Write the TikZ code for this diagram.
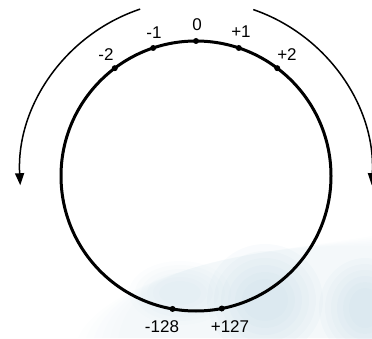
\documentclass[tikz,border=0pt]{standalone}
\usepackage{fontspec}
\setmainfont{Liberation Sans}
\usetikzlibrary{arrows.meta,calc}
\definecolor{wm}{RGB}{175,205,220}
\begin{document}
\begin{tikzpicture}[x=1pt,y=1pt,
  ring/.style={line width=3pt},
  dot/.style={circle,fill=black,inner sep=0pt,minimum size=6pt},
  lbl/.style={font=\fontsize{17}{19}\selectfont,inner sep=0pt},
  turn/.style={line width=1.5pt,-{Triangle[length=12pt,width=9pt]}}]
\useasboundingbox (0,0) rectangle (372,338);
\clip (0,0) rectangle (372,338);
% faint watermark background
\foreach \k in {1,...,6}{
  \fill[wm,opacity=0.025] (70+8*\k,0) .. controls (95+6*\k,50+5*\k) and (250,100-3*\k) .. (372,90+2*\k) -- (372,0) -- cycle;
  \fill[wm,opacity=0.07] (265,38) ellipse[x radius=16+7*\k,y radius=14+7*\k];
  \fill[wm,opacity=0.07] (365,30) ellipse[x radius=10+6*\k,y radius=14+6*\k];
  \fill[wm,opacity=0.04] (180,45) ellipse[x radius=15+6*\k,y radius=8+4*\k];
}
\coordinate (c) at (196,162);
\draw[ring] (c) circle[radius=135];
\node[dot] (p0) at ($(c)+(90:135)$) {};
\node[dot] (p1) at ($(c)+(71.5:135)$) {};
\node[dot] (p2) at ($(c)+(53:135)$) {};
\node[dot] (m1) at ($(c)+(108.5:135)$) {};
\node[dot] (m2) at ($(c)+(127:135)$) {};
\node[dot] (m128) at ($(c)+(260:135)$) {};
\node[dot] (p127) at ($(c)+(281:135)$) {};
\node[lbl] (l0) at (197,313) {0};
\node[lbl] (l1) at (241,306) {+1};
\node[lbl] (l2) at (287,283) {+2};
\node[lbl] (lm1) at (154,305) {-1};
\node[lbl] (lm2) at (106,283) {-2};
\node[lbl] (lm128) at (162,11) {-128};
\node[lbl] (l127) at (230,11) {+127};
\coordinate (ls) at ($(c)+(108.5:176)$);
\coordinate (rs) at ($(c)+(71:176)$);
\draw[turn] (ls) arc[start angle=108.5,end angle=183,radius=176];
\draw[turn] (rs) arc[start angle=71,end angle=-3,radius=176];
\end{tikzpicture}
\end{document}
